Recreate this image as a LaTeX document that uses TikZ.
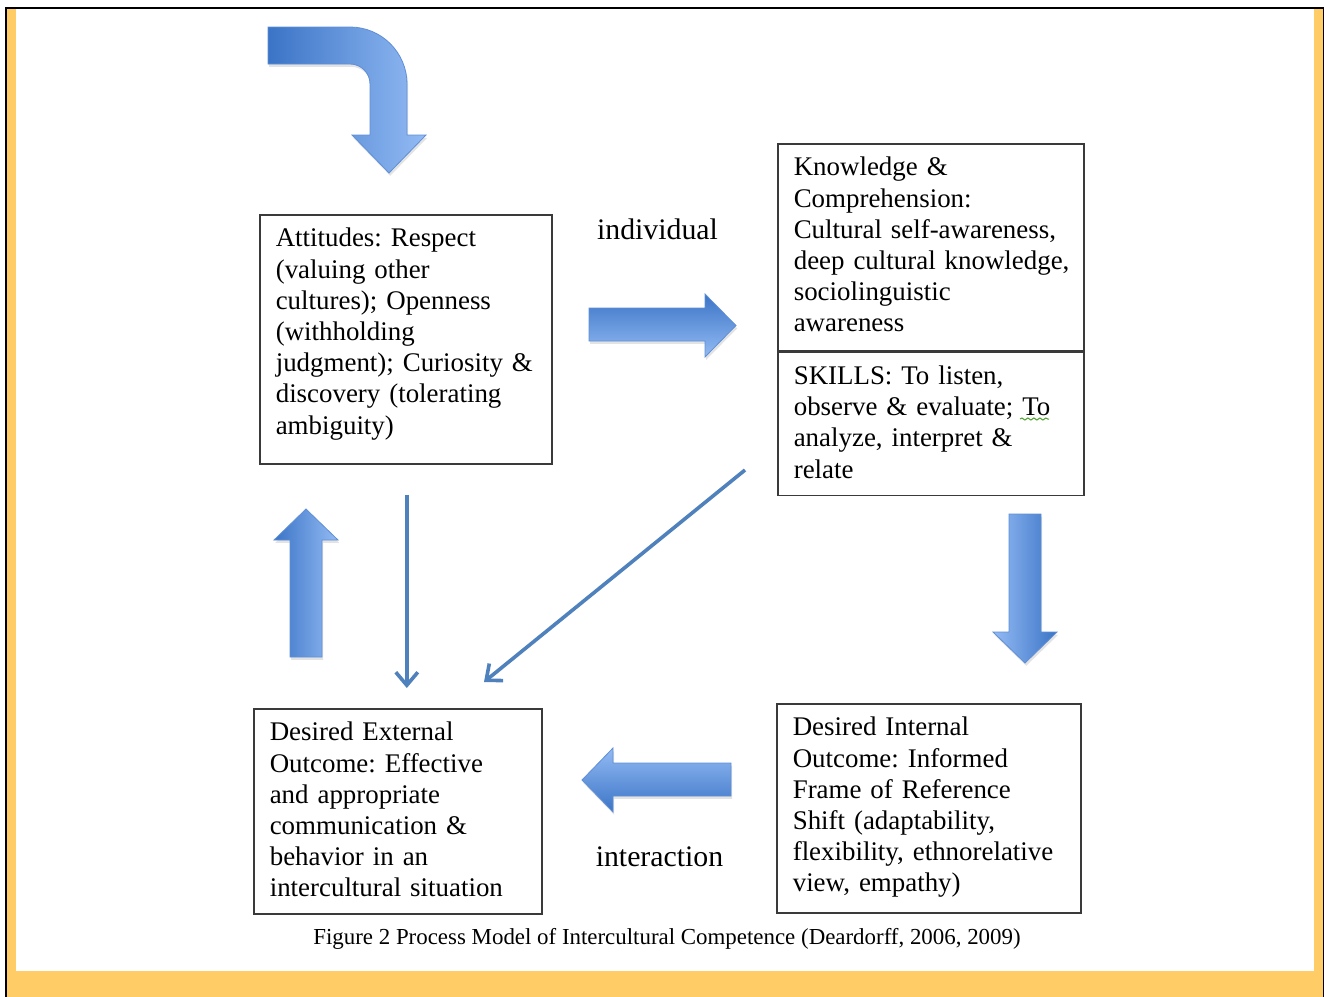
\documentclass[tikz,border=0pt]{standalone}
\usepackage{fontspec}
\setmainfont{Liberation Serif}
\usetikzlibrary{arrows.meta,positioning,shadows,decorations.pathmorphing}
\frenchspacing

\definecolor{frameyellow}{HTML}{FFCC66}
\definecolor{boxgrey}{HTML}{3A3A3A}
\definecolor{linkblue}{HTML}{4F81BD}
\definecolor{arrdark}{HTML}{3B74C6}
\definecolor{arrlight}{HTML}{93BBF4}
\definecolor{arredge}{HTML}{5F8FD6}
\definecolor{squiggle}{HTML}{4CA22E}

\newcommand{\boxfont}{\fontsize{13.45}{15.6}\selectfont}
\newcommand{\labelfont}{\fontsize{14.9}{17}\selectfont}
\newcommand{\capfont}{\fontsize{11.45}{13}\selectfont}
% lines of a box, kept as typed
\newcommand{\boxlines}[1]{\begin{tabular}[t]{@{}l@{}}#1\end{tabular}}

\tikzset{
  cbox/.style={draw=boxgrey, line width=0.8pt, anchor=north west,
    inner xsep=8pt, inner ysep=0pt, text height=16pt, font=\boxfont},
  link/.style={draw=linkblue, line width=1.8pt, -{Straight Barb[length=6.5pt,width=11pt]}},
  block/.style={draw=arredge, line width=0.4pt,
    drop shadow={shadow xshift=0.6pt, shadow yshift=-1.4pt, opacity=0.22}},
}

\begin{document}
\begin{tikzpicture}[x=0.5pt,y=-0.5pt]
  \useasboundingbox (0,0) rectangle (1324,997);
  % page frame
  \fill[black] (5,6.5) rectangle (1324,997);
  \fill[frameyellow] (7,8.7) rectangle (1323,997);
  \fill[white] (16,8.7) rectangle (1314,971);

  % the five boxes
  \node[cbox, text width=130pt, text depth=108.5pt] (att) at (259,214)
    {\boxlines{Attitudes: Respect\\(valuing other\\cultures); Openness\\(withholding\\judgment); Curiosity \&\\discovery (tolerating\\ambiguity)}};
  \node[cbox, text width=137pt, text depth=87.5pt] (know) at (777,143)
    {\boxlines{Knowledge \&\\Comprehension:\\Cultural self-awareness,\\deep cultural knowledge,\\sociolinguistic\\awareness}};
  \node[cbox, text width=137pt, text depth=55.5pt] (skl) at (know.south west)
    {\boxlines{SKILLS: To listen,\\observe \& evaluate; To\\analyze, interpret \&\\relate}};
  \node[cbox, text width=128pt, text depth=86.5pt] (ext) at (253,708)
    {\boxlines{Desired External\\Outcome: Effective\\and appropriate\\communication \&\\behavior in an\\intercultural situation}};
  \node[cbox, text width=136pt, text depth=88.5pt] (int) at (776,703)
    {\boxlines{Desired Internal\\Outcome: Informed\\Frame of Reference\\Shift (adaptability,\\flexibility, ethnorelative\\view, empathy)}};

  % spell-check mark under "To"
  \draw[squiggle, line width=0.5pt, decorate,
    decoration={snake, amplitude=0.5pt, segment length=3pt}] (1020,419) -- (1049,419);

  \node[font=\labelfont, anchor=base] (indiv) at (657.5,239) {individual};
  \node[font=\labelfont, anchor=base] (inter) at (659.5,866) {interaction};

  % block arrows
  \path[block, left color=arrdark, right color=arrlight]
    (268,27) -- (350,27) arc[start angle=-90, end angle=0, radius=57]
    -- (407,135) -- (426,135) -- (389,173) -- (352,135) -- (370,135) -- (370,84)
    arc[start angle=0, end angle=-90, radius=20] -- (268,64) -- cycle;
  \path[block, top color=arrdark, bottom color=arrlight]
    (589,308) -- (705,308) -- (705,294) -- (736,325.5) -- (705,357)
    -- (705,341) -- (589,341) -- cycle;
  \path[block, top color=arrlight, bottom color=arrdark]
    (731,763) -- (613,763) -- (613,748) -- (582,780) -- (613,812)
    -- (613,796) -- (731,796) -- cycle;
  \path[block, left color=arrdark, right color=arrlight]
    (290,657) -- (290,540) -- (274,540) -- (306,509) -- (338,540)
    -- (322,540) -- (322,657) -- cycle;
  \path[block, left color=arrlight, right color=arrdark]
    (1009,514) -- (1041,514) -- (1041,632) -- (1057,632) -- (1025,663)
    -- (993,632) -- (1009,632) -- cycle;

  % thin connectors
  \coordinate (diagfrom) at (745,470);
  \coordinate (diagto) at (484,682);
  \draw[link, shorten <=15pt, shorten >=10pt] ([xshift=0.5pt]att.south) -- ([xshift=0.5pt]att.south |- ext.north);
  \draw[link] (diagfrom) -- (diagto);

  \node[font=\capfont, anchor=base] (cap) at (667,944)
    {Figure 2 Process Model of Intercultural Competence (Deardorff, 2006, 2009)};
\end{tikzpicture}
\end{document}
